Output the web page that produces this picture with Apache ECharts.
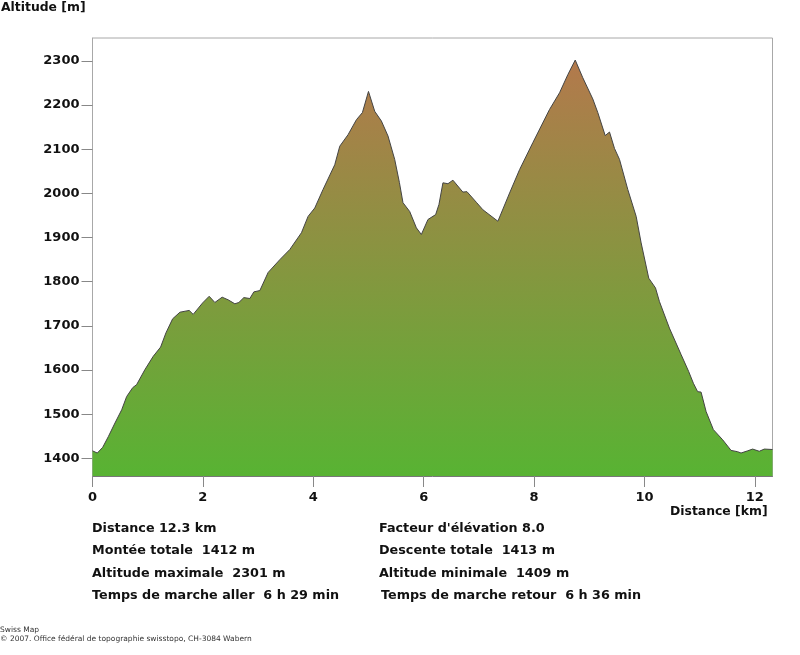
<!DOCTYPE html>
<html>
<head>
<meta charset="utf-8">
<style>
html, body { margin: 0; padding: 0; background: #fff; }
#chart { width: 800px; height: 655px; }
</style>
<script src="https://cdn.jsdelivr.net/npm/echarts@6/dist/echarts.min.js"></script>
</head>
<body>
<div id="chart"></div>
<script>
// profile
var distances = [0, 0.087, 0.185, 0.286, 0.407, 0.529, 0.619, 0.728, 0.80, 0.95, 1.10, 1.234, 1.33, 1.452, 1.584, 1.752, 1.824, 1.995, 2.114, 2.217, 2.349, 2.458, 2.579, 2.652, 2.742, 2.851, 2.923, 3.032, 3.182, 3.394, 3.575, 3.786, 3.906, 4.027, 4.177, 4.389, 4.48, 4.63, 4.782, 4.89, 5.0, 5.113, 5.234, 5.354, 5.475, 5.56, 5.625, 5.747, 5.868, 5.958, 6.078, 6.217, 6.277, 6.349, 6.44, 6.53, 6.71, 6.784, 6.954, 7.073, 7.345, 7.557, 7.738, 7.978, 8.28, 8.462, 8.612, 8.746, 8.883, 9.064, 9.155, 9.289, 9.367, 9.457, 9.548, 9.698, 9.85, 9.94, 10.078, 10.2, 10.272, 10.452, 10.664, 10.80, 10.887, 10.964, 11.026, 11.117, 11.249, 11.417, 11.569, 11.688, 11.75, 11.87, 11.96, 12.08, 12.172, 12.32];
var altitudes = [1417, 1412, 1425, 1449, 1480, 1510, 1540, 1560, 1567, 1601, 1631, 1652, 1684, 1716, 1731, 1735, 1726, 1752, 1767, 1753, 1765, 1759, 1750, 1753, 1764, 1762, 1777, 1780, 1821, 1850, 1873, 1911, 1948, 1967, 2009, 2065, 2107, 2133, 2167, 2183, 2231, 2186, 2164, 2130, 2077, 2025, 1979, 1959, 1922, 1907, 1941, 1952, 1975, 2024, 2022, 2030, 2003, 2004, 1980, 1963, 1937, 2001, 2054, 2115, 2190, 2228, 2269, 2302, 2262, 2214, 2183, 2131, 2139, 2102, 2077, 2009, 1948, 1888, 1808, 1786, 1755, 1695, 1635, 1597, 1570, 1551, 1550, 1506, 1465, 1442, 1418, 1415, 1412, 1417, 1421, 1416, 1421, 1420];
var xTicks = [0, 2, 4, 6, 8, 10, 12];
var yTicks = [1400, 1500, 1600, 1700, 1800, 1900, 2000, 2100, 2200, 2300];
var leftInfo = ['Distance 12.3 km', 'Montée totale  1412 m', 'Altitude maximale  2301 m', 'Temps de marche aller  6 h 29 min'];
var rightInfo = ["Facteur d'élévation 8.0", 'Descente totale  1413 m', 'Altitude minimale  1409 m', 'Temps de marche retour  6 h 36 min'];
var footer = ['Swiss Map', '© 2007. Office fédéral de topographie swisstopo, CH-3084 Wabern'];

var font = '"DejaVu Sans", sans-serif';

function label(text, x, y, size, weight, color) {
	return {
		type: 'text',
		x: x,
		y: y,
		style: { text: text, font: (weight || 'bold') + ' ' + size + 'px ' + font, fill: color || '#111', textVerticalAlign: 'middle' }
	};
}

var texts = [label('Altitude [m]', 1, 8, 12.4), label('Distance [km]', 670, 512, 12.4)];
var rowY = [529, 551, 574, 596];
var rightX = [379, 379, 379, 381];
for (var i = 0; i < rowY.length; i++) {
	texts.push(label(leftInfo[i], 92, rowY[i], 12.75));
	texts.push(label(rightInfo[i], rightX[i], rowY[i], 12.75));
}
texts.push(label(footer[0], 0, 630, 7.5, 'normal', '#333'));
texts.push(label(footer[1], 0, 639, 7.5, 'normal', '#333'));

var points = [];
for (var j = 0; j < distances.length; j++) {
	points.push([distances[j], altitudes[j]]);
}

var myChart = echarts.init(document.getElementById('chart'));
myChart.setOption({
	animation: false,
	backgroundColor: '#fff',
	grid: { left: 92.5, top: 38, width: 680, height: 438, show: true, borderColor: '#a8a8a8', borderWidth: 1, backgroundColor: '#fff' },
	xAxis: {
		type: 'value',
		min: 0,
		max: 12.32,
		axisLine: { show: true, lineStyle: { color: '#777' } },
		axisTick: { show: true, length: 11, customValues: xTicks, lineStyle: { color: '#888' } },
		axisLabel: { customValues: xTicks, margin: 15, color: '#111', fontFamily: font, fontWeight: 'bold', fontSize: 13 },
		splitLine: { show: false }
	},
	yAxis: {
		type: 'value',
		min: 1360,
		max: 2352,
		axisLine: { show: true, lineStyle: { color: '#a8a8a8' } },
		axisTick: { show: true, length: 11, customValues: yTicks, lineStyle: { color: '#888' } },
		axisLabel: {
			customValues: yTicks,
			margin: 13,
			padding: [2, 0, 0, 0],
			color: '#111',
			fontFamily: font,
			fontWeight: 'bold',
			fontSize: 13,
			formatter: function(value) { return String(value) }
		},
		splitLine: { show: false }
	},
	series: [{
		type: 'line',
		data: points,
		symbol: 'none',
		lineStyle: { color: '#444', width: 1 },
		areaStyle: {
			origin: 'start',
			opacity: 1,
			color: new echarts.graphic.LinearGradient(0, 0, 0, 1, [
				{ offset: 0, color: '#b3794c' },
				{ offset: 1, color: '#58b333' }
			])
		}
	}],
	graphic: texts
});
</script>
</body>
</html>
